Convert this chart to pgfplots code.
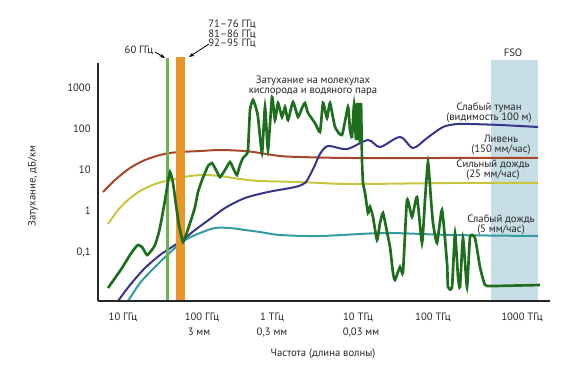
\documentclass[border=0pt]{standalone}
\usepackage{fontspec}
\setmainfont{PT Sans}
\usepackage{pgfplots}
\pgfplotsset{compat=1.18}
\usetikzlibrary{arrows.meta}
\definecolor{txt}{RGB}{38,38,38}
\definecolor{brownc}{RGB}{165,72,40}
\definecolor{yellowc}{RGB}{200,198,62}
\definecolor{bluec}{RGB}{55,52,140}
\definecolor{tealc}{RGB}{52,155,165}
\definecolor{dgreen}{RGB}{30,110,30}
\definecolor{lgreen}{RGB}{110,178,80}
\definecolor{orangec}{RGB}{232,150,40}
\definecolor{fso}{RGB}{200,222,230}
\begin{document}
\begin{tikzpicture}[font=\fontsize{8}{9}\selectfont, text=txt]
\useasboundingbox (-73.5pt,-52.5pt) rectangle (356.25pt,225.75pt);
\begin{axis}[at={(0pt,0pt)}, anchor=south west, scale only axis,
  width=339pt, height=178.5pt,
  xmin=0.6875, xmax=6.3375, ymin=-2.195, ymax=3.61,
  axis x line=bottom, axis y line=left,
  axis line style={-, line width=2.2pt, draw=black!85},
  axis on top, clip=false,
  xtick={1,1.9875,2.8625,3.9375,4.875,5.9875},
  xticklabels={10 ГГц,100 ГГц,1 ТГц,10 ТГц,100 ТГц,1000 ТГц},
  ytick={-1,0,1,2,3}, yticklabels={{0,1},1,10,100,1000},
  major tick length=0pt,
  xticklabel style={font=\fontsize{8}{9}\selectfont, text=txt, yshift=-5.5pt},
  yticklabel style={font=\fontsize{8}{9}\selectfont, text=txt, xshift=-2pt},
]
% FSO band
\addplot[draw=none, fill=fso] coordinates {(5.6,-2.195) (5.6,3.683) (6.1875,3.683) (6.1875,-2.195)} --cycle;
% Ливень
\addplot[brownc, line width=1.5pt, smooth] coordinates {
(0.75,0.463) (0.90,0.756) (1.0875,1.049) (1.275,1.244) (1.4625,1.366) (1.5875,1.415)
(1.7125,1.439) (1.9625,1.463) (2.2125,1.488) (2.525,1.463) (2.7125,1.415) (2.9625,1.341)
(3.2125,1.317) (3.8375,1.293) (5.0875,1.293) (6.1875,1.293)};
% Сильный дождь
\addplot[yellowc, line width=1.5pt, smooth] coordinates {
(0.8125,-0.317) (0.9375,0.024) (1.0625,0.268) (1.2125,0.488) (1.4,0.659) (1.5875,0.756)
(1.8375,0.854) (2.025,0.878) (2.2125,0.854) (2.4625,0.780) (2.7125,0.732) (3.2125,0.707)
(3.8375,0.659) (5.0875,0.683) (6.1875,0.683)};
% Слабый дождь
\addplot[tealc, line width=1.5pt, smooth] coordinates {
(1.0625,-2.195) (1.2125,-1.756) (1.3375,-1.488) (1.4875,-1.195) (1.65,-0.902) (1.775,-0.707)
(1.9625,-0.537) (2.15,-0.415) (2.3375,-0.415) (2.525,-0.463) (2.7125,-0.512) (2.9625,-0.585)
(3.4625,-0.610) (4.275,-0.537) (5.0875,-0.585) (6.1875,-0.610)};
% Слабый туман
\addplot[bluec, line width=1.5pt, smooth] coordinates {
(0.9375,-2.195) (1.0875,-1.805) (1.275,-1.390) (1.4625,-1.073) (1.6125,-0.878) (1.775,-0.659)
(1.9,-0.463) (2.0875,-0.195) (2.275,0.073) (2.525,0.317) (2.8125,0.463) (3.15,0.585)
(3.275,0.683) (3.3375,0.878) (3.4,1.122) (3.4625,1.390) (3.5625,1.585) (3.8,1.512)
(4.0625,1.732) (4.2125,1.561) (4.4625,1.805) (4.625,1.537) (4.8,1.780) (5.0,2.049)
(5.175,2.122) (5.3375,2.122) (5.7125,2.098) (6.1875,2.049)};
% 60 GHz line and E-band
\addplot[lgreen, line width=2.2pt] coordinates {(1.554,-2.195) (1.554,3.73)};
\addplot[draw=none, fill=orangec] coordinates {(1.6625,-2.195) (1.6625,3.756) (1.775,3.756) (1.775,-2.195)} --cycle;
% molecular absorption
\addplot[dgreen, line width=2pt, smooth, tension=0.3] coordinates {
(0.8125,-1.878) (0.9,-1.634) (0.9875,-1.390) (1.0875,-1.073) (1.15,-0.902) (1.1875,-0.829)
(1.2375,-0.878) (1.3,-1.073) (1.35,-0.976) (1.4,-0.829) (1.45,-0.512) (1.4875,-0.146)
(1.525,0.268) (1.55,0.561) (1.5875,0.951) (1.625,0.683) (1.6625,0.146) (1.7,-0.341)
(1.75,-0.756) (1.8,-0.512) (1.8625,-0.146) (1.9,0.098) (1.9375,0.463) (1.9875,0.756)
(2.025,0.927) (2.0625,1.098) (2.1125,1.171) (2.1625,1.0) (2.2125,0.829) (2.275,1.0)
(2.3375,1.195) (2.3875,1.0) (2.425,0.878) (2.4625,1.122) (2.5,1.293) (2.5375,1.366)
(2.5625,1.488) (2.5875,2.463) (2.625,2.707) (2.6625,2.512) (2.6875,2.293) (2.7375,1.415)
(2.775,2.537) (2.8125,1.488) (2.8625,2.780) (2.9,2.220) (2.9375,2.634) (2.9875,2.293)
(3.025,2.537) (3.0625,2.220) (3.125,2.659) (3.1875,2.293) (3.2375,2.512) (3.275,2.634)
(3.3125,2.390) (3.4,2.146) (3.4625,1.927) (3.5,2.634) (3.55,2.268) (3.5875,2.634)
(3.65,2.049) (3.7375,1.854) (3.8125,2.537) (3.8375,1.976) (3.8625,1.805) (3.8875,2.585)
(3.9125,1.732) (3.925,2.634) (3.9375,1.732) (3.95,2.634) (3.9625,1.659) (3.975,2.634)
(3.9875,1.244) (4.0,0.683) (4.025,0.439) (4.0625,-0.049) (4.0875,0.098) (4.125,-0.146)
(4.175,-0.707) (4.2125,-0.293) (4.25,-0.049) (4.3,-0.512) (4.3375,-0.878) (4.375,-1.512)
(4.4,-1.683) (4.4625,-1.366) (4.5,-1.488) (4.55,0.268) (4.6125,-0.146) (4.675,0.341)
(4.7375,-0.780) (4.775,0.268) (4.8125,1.195) (4.85,0.268) (4.875,-0.293) (4.925,-0.780)
(4.9875,0.024) (5.05,-1.268) (5.0625,-1.854) (5.1125,-1.854) (5.15,-0.537) (5.1875,-1.610)
(5.2125,-1.854) (5.25,-0.659) (5.3,-1.854) (5.3375,-0.634) (5.4,-0.659) (5.4625,-1.366)
(5.525,-1.805) (5.625,-1.829) (6.2125,-1.805)};
\end{axis}
\begin{scope}[x=0.75pt, y=-0.75pt, shift={(-73.5pt,225.75pt)}]
\node at (139,50) {60 ГГц};
\draw[-{Stealth[length=4pt,width=3pt]}, line width=0.6pt, black] (155,52) -- (165,58);
\node[align=center, font=\fontsize{8}{7.3}\selectfont] at (232,34) {71–76 ГГц\\81–86 ГГц\\92–95 ГГц};
\draw[-{Stealth[length=4pt,width=3pt]}, line width=0.6pt, black] (209,44) -- (189,57);
\node[align=center, font=\fontsize{8}{7.6}\selectfont] at (313,86) {Затухание на молекулах\\кислорода и водяного пара};
\node at (513,53) {FSO};
\node[align=center, font=\fontsize{8}{7.6}\selectfont] at (489,113) {Слабый туман\\(видимость 100 м)};
\node[align=center, font=\fontsize{8}{7.6}\selectfont] at (501,145) {Ливень\\(150 мм/час)};
\node[align=center, font=\fontsize{8}{7.6}\selectfont] at (493,170) {Сильный дождь\\(25 мм/час)};
\node[align=center, font=\fontsize{8}{7.6}\selectfont] at (501,225) {Слабый дождь\\(5 мм/час)};
\node at (199,332) {3 мм};
\node at (272,332) {0,3 мм};
\node at (361,332) {0,03 мм};
\node at (323,354) {Частота (длина волны)};
\node[rotate=90] at (33,186) {Затухание, дБ/км};
\end{scope}
\end{tikzpicture}
\end{document}
